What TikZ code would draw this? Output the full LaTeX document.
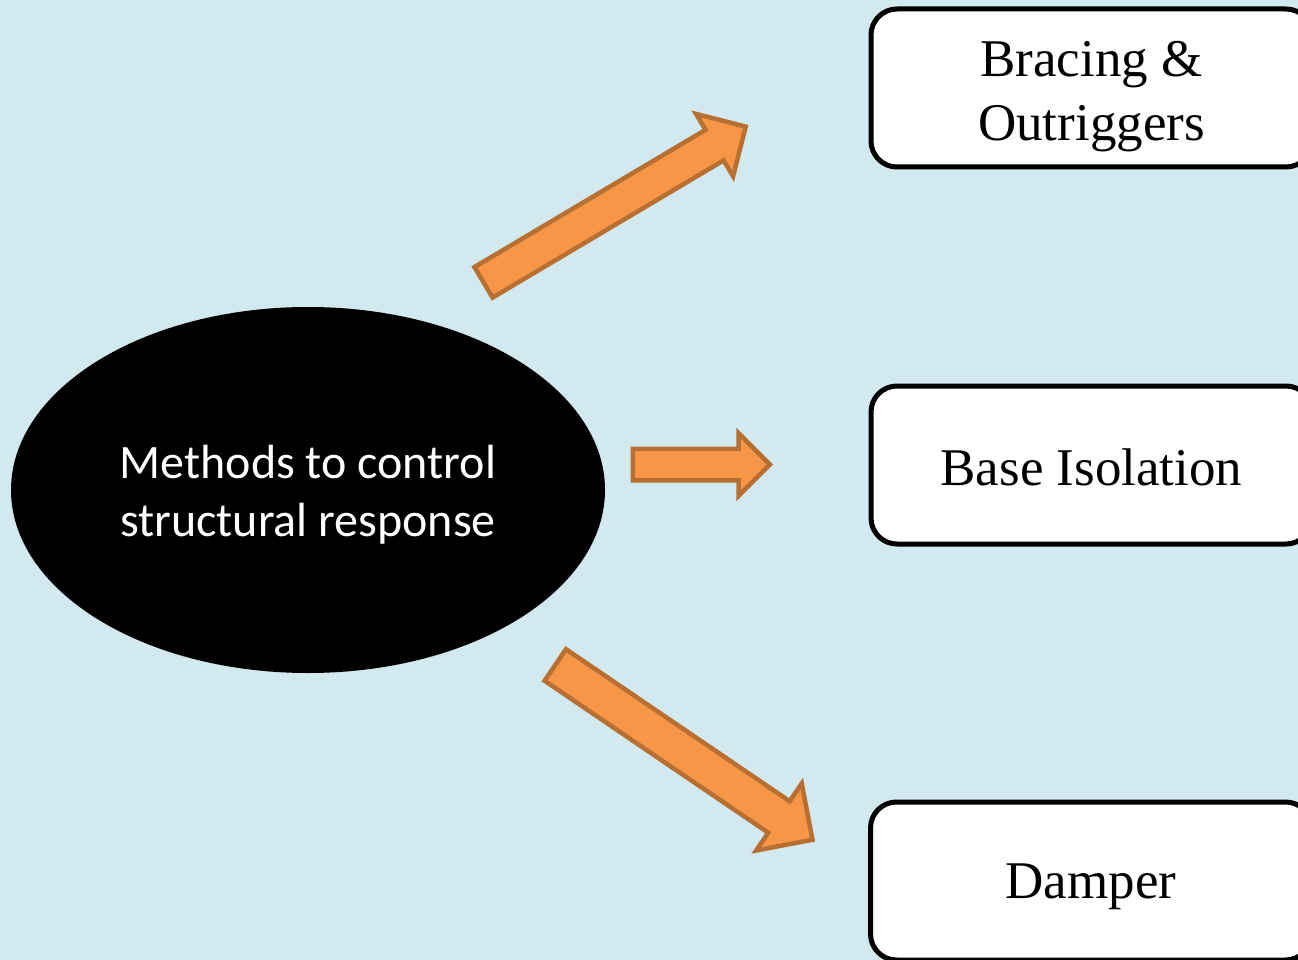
\documentclass[tikz,border=0pt]{standalone}
\usepackage{fontspec}
\setmainfont{Liberation Serif}
\newfontfamily\calib{Carlito}
\usetikzlibrary{shapes.geometric,shapes.arrows}
\definecolor{bgblue}{RGB}{209,233,239}
\definecolor{arrfill}{RGB}{247,150,70}
\definecolor{arrdraw}{RGB}{184,111,50}
\tikzset{
  methodbox/.style={draw=black, line width=5pt, rounded corners=26pt, fill=white,
    minimum width=441pt, minimum height=158pt, inner sep=0pt},
  boxtext/.style={align=center, inner sep=0pt, font=\fontsize{53}{64}\selectfont},
  blockarrow/.style={single arrow, draw=arrdraw, fill=arrfill, line width=4.5pt,
    inner xsep=0pt, single arrow tip angle=90, line join=miter},
}
\begin{document}
\begin{tikzpicture}[x=1pt,y=-1pt]
\useasboundingbox[fill=bgblue] (0,0) rectangle (1298,960);
\node[ellipse, fill=black, minimum width=594pt, minimum height=366pt, inner sep=0pt] (m) at (308,490) {};
\node[text=white, align=center, inner sep=0pt, font=\calib\fontsize{48}{58}\selectfont] (mt)
  at ([yshift=-5pt]m.center) {Methods to control\\structural response};
\node[methodbox] (b1) at (1091.5,88) {};
\node[boxtext] (t1) at ([yshift=-9pt]b1.center) {Bracing \&\\Outriggers};
\node[methodbox] (b2) at (1091.5,465) {};
\node[boxtext] (t2) at ([yshift=-2pt]b2.center) {Base Isolation};
\node[methodbox] (b3) at (1091,881) {};
\node[boxtext] (t3) at ([yshift=-6pt]b3.center) {Damper};
\node[blockarrow, minimum height=305pt, inner ysep=15.5pt, single arrow head extend=18.5pt,
  rotate=30.7] (a1) at (607,209) {};
\node[blockarrow, minimum height=137pt, inner ysep=13.5pt, single arrow head extend=15.5pt]
  (a2) at (693.5,464.5) {};
\node[blockarrow, minimum height=311pt, inner ysep=16.8pt, single arrow head extend=21.5pt,
  rotate=-34.2] (a3) at (676,747) {};
\end{tikzpicture}
\end{document}
